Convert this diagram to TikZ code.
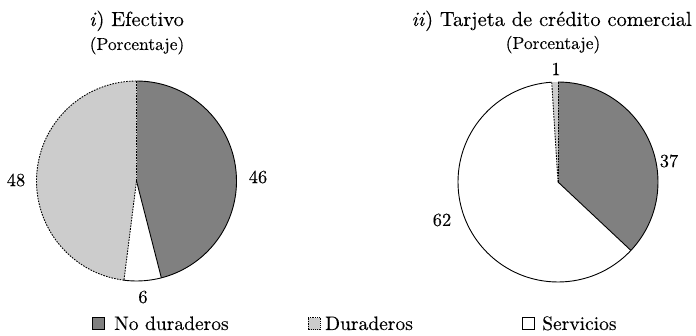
\documentclass[tikz,border=0pt]{standalone}
\usepackage{fontspec}
\setmainfont{lmroman10-regular.otf}[ItalicFont=lmroman10-italic.otf, FakeBold=0.15]
\definecolor{nodur}{gray}{0.5}
\definecolor{durcol}{gray}{0.8}
\begin{document}
\begin{tikzpicture}[x=1pt,y=1pt,
  solidedge/.style={line width=0.9pt, line join=round},
  dashedge/.style={line width=0.9pt, dash pattern=on 1.6pt off 1.2pt},
  lbl/.style={font=\fontsize{18.5}{20}\selectfont, inner sep=0pt},
  ttl/.style={font=\fontsize{20.5}{24}\selectfont, anchor=base, inner sep=0pt},
  sub/.style={font=\fontsize{17.5}{20}\selectfont, anchor=base, inner sep=0pt},
  leg/.style={font=\fontsize{19.5}{22}\selectfont, anchor=base west, inner sep=0pt},
  legbox/.style={minimum size=12pt, inner sep=0pt, line width=0.9pt, anchor=south west}
]
\useasboundingbox (0,0) rectangle (696,336);
\def\R{100}
\coordinate (cA) at (136.5,155);
\coordinate (cB) at (558,154);

% ---------- left pie: Efectivo ----------
\fill[nodur] (cA) -- ++(90:\R) arc[start angle=90,end angle=-75.6,radius=\R] -- cycle;
\fill[white] (cA) -- ++(-75.6:\R) arc[start angle=-75.6,end angle=-97.2,radius=\R] -- cycle;
\fill[durcol] (cA) -- ++(-97.2:\R) arc[start angle=-97.2,end angle=-270,radius=\R] -- cycle;
\draw[solidedge] (cA) -- ++(-75.6:\R);
\draw[solidedge] (cA) ++(90:\R) arc[start angle=90,end angle=-97.2,radius=\R];
\draw[dashedge] (cA) ++(-97.2:\R) arc[start angle=-97.2,end angle=-270,radius=\R];
\draw[dashedge] (cA) -- ++(90:\R);
\draw[dashedge] (cA) -- ++(-97.2:\R);

% ---------- right pie: Tarjeta ----------
\fill[nodur] (cB) -- ++(90:\R) arc[start angle=90,end angle=-43.2,radius=\R] -- cycle;
\fill[white] (cB) -- ++(-43.2:\R) arc[start angle=-43.2,end angle=-266.4,radius=\R] -- cycle;
\fill[durcol] (cB) -- ++(93.6:\R) arc[start angle=93.6,end angle=90,radius=\R] -- cycle;
\draw[solidedge] (cB) -- ++(-43.2:\R);
\draw[solidedge] (cB) ++(90:\R) arc[start angle=90,end angle=-266.4,radius=\R];
\draw[dashedge] (cB) -- ++(90:\R);
\draw[dashedge] (cB) -- ++(93.6:\R);

% ---------- titles ----------
\node[ttl] (tA) at (136.5,310) {\textit{i}) Efectivo};
\node[sub] (sA) at (137,286) {(Porcentaje)};
\node[ttl, anchor=base east] (tB) at (692,310) {\textit{ii}) Tarjeta de crédito comercial};
\node[sub] (sB) at (553,287) {(Porcentaje)};

% ---------- value labels ----------
\node[lbl] (vA1) at (258,159) {46};
\node[lbl] (vA2) at (16,156) {48};
\node[lbl] (vA3) at (143,39) {6};
\node[lbl] (vB1) at (669,175) {37};
\node[lbl] (vB2) at (442,116) {62};
\node[lbl] (vB3) at (556,267) {1};

% ---------- legend ----------
\node[legbox, draw, fill=nodur] (k1) at (92,6) {};
\node[leg] (l1) at (114,6) {No duraderos};
\node[legbox, fill=durcol, draw, dash pattern=on 1.2pt off 1pt] (k2) at (308,6) {};
\node[leg] (l2) at (325,6) {Duraderos};
\node[legbox, draw, fill=white] (k3) at (522,6) {};
\node[leg] (l3) at (542,6) {Servicios};
\end{tikzpicture}
\end{document}
